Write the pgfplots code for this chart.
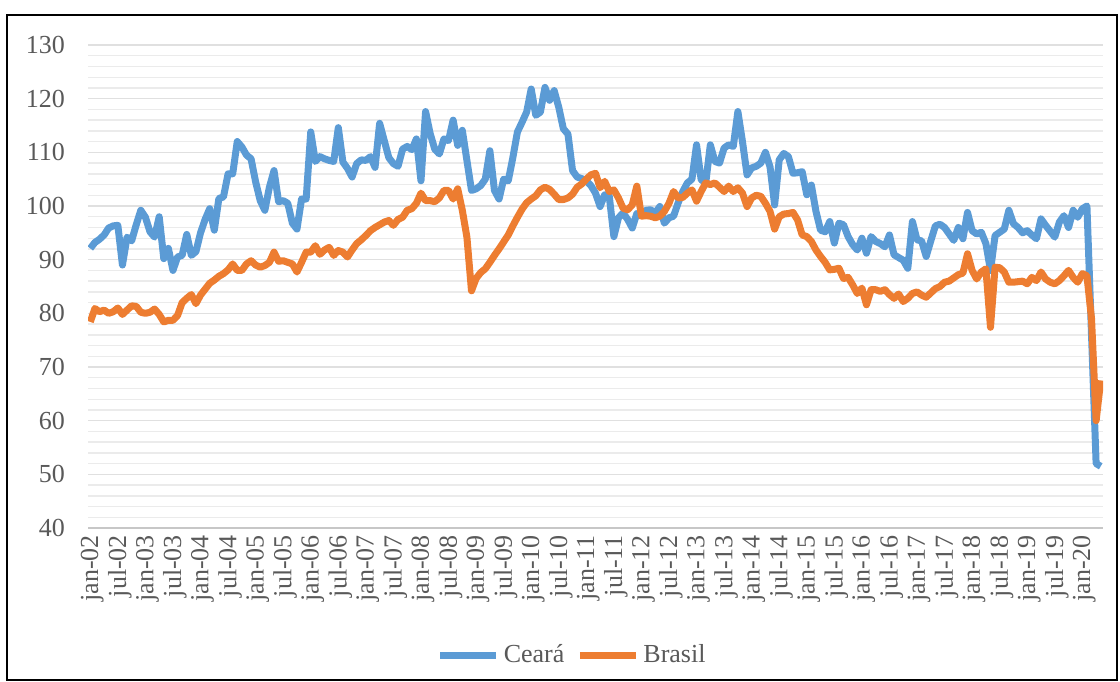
\documentclass[border=0pt]{standalone}
\usepackage{pgfplots}
\pgfplotsset{compat=1.18}
\usepackage{pgfplotstable}
\usepackage{fontspec}
\setmainfont{Liberation Serif}
\definecolor{cblue}{HTML}{5B9BD5}
\definecolor{corange}{HTML}{ED7D31}
\definecolor{ticktxt}{HTML}{595959}
\pgfplotstableread{
i c b
0 92.1 78.4
1 93.2 80.9
2 93.8 80.3
3 94.6 80.6
4 95.9 80.0
5 96.3 80.3
6 96.4 81.0
7 89.0 79.8
8 94.2 80.6
9 93.5 81.4
10 96.5 81.3
11 99.2 80.2
12 97.9 80.0
13 95.2 80.2
14 94.2 80.8
15 98.0 79.8
16 90.2 78.4
17 92.1 78.7
18 88.0 78.7
19 90.5 79.6
20 90.8 82.0
21 94.7 82.8
22 90.8 83.5
23 91.5 81.8
24 95.0 83.4
25 97.5 84.5
26 99.5 85.6
27 95.5 86.2
28 101.4 86.9
29 101.7 87.4
30 106.0 88.1
31 106.0 89.2
32 112.0 88.0
33 111.0 88.0
34 109.5 89.2
35 108.8 89.8
36 104.5 89.0
37 101.0 88.6
38 99.2 88.9
39 103.5 89.5
40 106.6 91.4
41 100.8 89.7
42 101.0 89.8
43 100.5 89.5
44 96.8 89.2
45 95.7 87.7
46 101.3 89.5
47 101.3 91.4
48 113.8 91.4
49 108.3 92.6
50 109.2 91.0
51 108.8 91.8
52 108.5 92.3
53 108.3 90.8
54 114.6 91.7
55 108.2 91.4
56 107.0 90.5
57 105.4 91.8
58 107.9 93.0
59 108.6 93.7
60 108.5 94.5
61 109.2 95.4
62 107.2 96.0
63 115.4 96.5
64 112.2 97.0
65 109.0 97.3
66 107.9 96.4
67 107.4 97.5
68 110.6 97.9
69 111.1 99.2
70 110.5 99.5
71 112.5 100.5
72 104.7 102.4
73 117.6 101.0
74 113.5 101.0
75 110.6 100.8
76 109.7 101.5
77 112.5 102.9
78 112.2 102.9
79 116.0 101.3
80 111.3 103.2
81 114.1 99.2
82 108.5 94.2
83 102.9 84.2
84 103.2 86.5
85 103.8 87.6
86 105.0 88.3
87 110.3 89.5
88 102.9 90.8
89 101.3 92.0
90 105.0 93.3
91 104.7 94.6
92 109.0 96.3
93 113.8 97.9
94 115.6 99.4
95 117.5 100.6
96 121.8 101.3
97 116.9 101.9
98 117.5 103.0
99 122.1 103.5
100 119.7 103.1
101 121.5 102.2
102 118.4 101.2
103 114.4 101.2
104 113.4 101.5
105 106.6 102.2
106 105.4 103.5
107 105.1 104.1
108 104.7 105.0
109 103.8 105.8
110 102.4 106.1
111 99.9 103.4
112 102.1 104.6
113 101.8 102.7
114 94.3 103.0
115 97.8 101.5
116 98.7 99.6
117 97.5 99.3
118 95.9 100.2
119 98.6 103.7
120 98.4 98.1
121 99.2 98.2
122 99.3 98.1
123 98.7 97.8
124 99.9 98.1
125 96.8 99.0
126 97.8 100.5
127 98.1 102.7
128 100.6 101.5
129 102.7 101.6
130 104.3 102.4
131 105.0 103.0
132 111.4 100.9
133 104.9 102.7
134 104.3 104.3
135 111.4 104.0
136 108.3 104.3
137 108.0 103.5
138 110.8 102.7
139 111.4 103.7
140 111.1 102.7
141 117.6 103.4
142 112.0 102.4
143 105.8 99.9
144 107.1 101.5
145 107.4 102.0
146 108.0 101.8
147 110.0 100.5
148 107.3 99.0
149 100.2 95.7
150 108.6 98.0
151 109.8 98.5
152 109.2 98.6
153 106.1 98.8
154 106.2 97.4
155 106.4 94.6
156 102.1 94.3
157 103.9 93.4
158 99.0 91.8
159 95.5 90.6
160 95.2 89.5
161 97.1 88.1
162 93.1 88.2
163 96.8 88.4
164 96.5 86.5
165 94.3 86.7
166 92.8 85.3
167 91.8 83.7
168 94.0 84.7
169 91.2 81.6
170 94.3 84.4
171 93.4 84.4
172 93.0 84.1
173 92.4 84.4
174 94.6 83.5
175 90.9 82.8
176 90.4 83.6
177 89.9 82.2
178 88.4 82.8
179 97.1 83.7
180 93.7 84.0
181 93.5 83.4
182 90.6 83.0
183 93.5 83.8
184 96.3 84.6
185 96.6 85.0
186 96.0 85.8
187 94.8 86.0
188 93.6 86.6
189 96.0 87.2
190 93.9 87.5
191 98.8 91.1
192 95.4 88.0
193 94.8 86.4
194 95.1 87.7
195 93.0 88.3
196 88.0 77.4
197 94.5 88.6
198 95.1 88.5
199 95.7 87.7
200 99.2 85.8
201 96.7 85.8
202 96.0 85.9
203 95.0 86.0
204 95.4 85.5
205 94.6 86.7
206 93.9 86.1
207 97.6 87.7
208 96.4 86.4
209 95.3 85.8
210 94.2 85.5
211 97.0 86.1
212 98.2 87.0
213 96.0 88.0
214 99.2 86.7
215 97.9 85.8
216 99.5 87.4
217 100.0 87.0
218 76.0 79.0
219 52.0 60.0
220 51.5 67.5
}\data

\begin{document}
\begin{tikzpicture}
\path (0,0) rectangle (560pt,340.5pt);
\draw[line width=0.6pt, black] (3.5pt,0.5pt) rectangle (558.5pt,333pt);
\begin{axis}[
  at={(44pt,76.5pt)}, anchor=south west,
  width=507.5pt, height=241.5pt, scale only axis,
  xmin=-0.5, xmax=220.5, ymin=40, ymax=130,
  ytick={40,50,...,130},
  minor y tick num=4,
  ymajorgrids, yminorgrids,
  major grid style={draw=black!12, line width=0.7pt},
  minor grid style={draw=black!8, line width=0.7pt},
  axis line style={draw=none},
  major tick length=0pt, minor tick length=0pt,
  tick style={draw=none},
  xtick={0,6,...,216},
  xticklabels={jan-02,jul-02,jan-03,jul-03,jan-04,jul-04,jan-05,jul-05,jan-06,jul-06,jan-07,jul-07,jan-08,jul-08,jan-09,jul-09,jan-10,jul-10,jan-11,jul-11,jan-12,jul-12,jan-13,jul-13,jan-14,jul-14,jan-15,jul-15,jan-16,jul-16,jan-17,jul-17,jan-18,jul-18,jan-19,jul-19,jan-20},
  xticklabel style={rotate=90, anchor=east, text=ticktxt, font=\fontsize{13}{15}\selectfont, xshift=0pt, yshift=-1pt},
  yticklabel style={text=ticktxt, font=\fontsize{13}{15}\selectfont, xshift=-8pt},
  /pgf/number format/assume math mode=true,
  legend columns=2,
  legend style={at={(0.478,-0.263)}, anchor=center, draw=none, fill=none,
    font=\fontsize{13}{15}\selectfont, text=ticktxt,
    /tikz/every even column/.append style={column sep=4pt}},
  legend image code/.code={\draw[#1] (0pt,0pt) -- (28pt,0pt);},
  line join=round,
]
\draw[black!22, line width=0.7pt] (axis cs:-0.5,40) -- (axis cs:220.5,40);
\addplot[cblue, line width=3.5pt, line join=round, no markers] table[x=i, y=c] {\data};
\addlegendentry{Ceará}
\addplot[corange, line width=3.5pt, line join=round, no markers] table[x=i, y=b] {\data};
\addlegendentry{Brasil}
\end{axis}
\end{tikzpicture}
\end{document}
